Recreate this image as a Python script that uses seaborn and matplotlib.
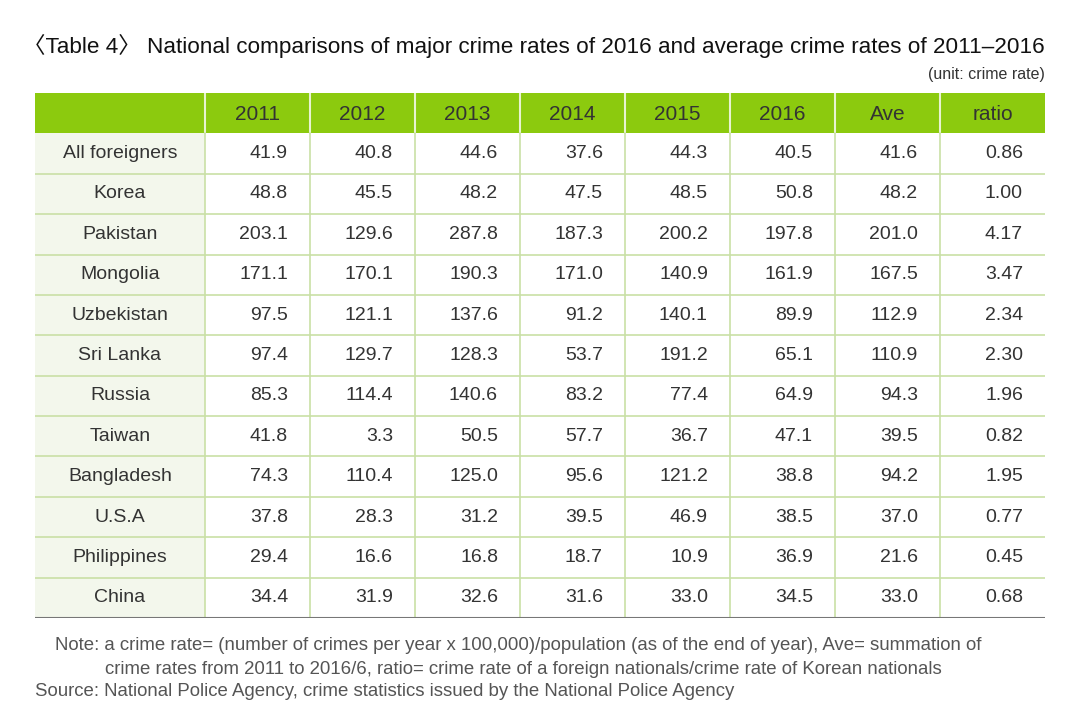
import numpy as np
import pandas as pd
import matplotlib
matplotlib.use("Agg")
import matplotlib.pyplot as plt
import seaborn as sns

countries = ["All foreigners", "Korea", "Pakistan", "Mongolia", "Uzbekistan",
             "Sri Lanka", "Russia", "Taiwan", "Bangladesh", "U.S.A",
             "Philippines", "China"]
columns = ["2011", "2012", "2013", "2014", "2015", "2016", "Ave", "ratio"]
y2011 = [41.9, 48.8, 203.1, 171.1, 97.5, 97.4, 85.3, 41.8, 74.3, 37.8, 29.4, 34.4]
y2012 = [40.8, 45.5, 129.6, 170.1, 121.1, 129.7, 114.4, 3.3, 110.4, 28.3, 16.6, 31.9]
y2013 = [44.6, 48.2, 287.8, 190.3, 137.6, 128.3, 140.6, 50.5, 125.0, 31.2, 16.8, 32.6]
y2014 = [37.6, 47.5, 187.3, 171.0, 91.2, 53.7, 83.2, 57.7, 95.6, 39.5, 18.7, 31.6]
y2015 = [44.3, 48.5, 200.2, 140.9, 140.1, 191.2, 77.4, 36.7, 121.2, 46.9, 10.9, 33.0]
y2016 = [40.5, 50.8, 197.8, 161.9, 89.9, 65.1, 64.9, 47.1, 38.8, 38.5, 36.9, 34.5]
ave = [41.6, 48.2, 201.0, 167.5, 112.9, 110.9, 94.3, 39.5, 94.2, 37.0, 21.6, 33.0]
ratio = [0.86, 1.00, 4.17, 3.47, 2.34, 2.30, 1.96, 0.82, 1.95, 0.77, 0.45, 0.68]

df = pd.DataFrame({"2011": y2011, "2012": y2012, "2013": y2013, "2014": y2014,
                   "2015": y2015, "2016": y2016, "Ave": ave, "ratio": ratio},
                  index=countries)
fmt = {c: "{:.1f}" for c in columns}
fmt["ratio"] = "{:.2f}"

sns.set_theme(style="white")
plt.rcParams["font.family"] = ["Liberation Sans", "Noto Sans CJK KR", "DejaVu Sans"]

fig = plt.figure(figsize=(10.8, 7.19), dpi=100)
W, H = 1080, 719
x0, x1, ytop, ybot = 35, 1045, 93, 618
ax = fig.add_axes([x0 / W, 1 - ybot / H, (x1 - x0) / W, (ybot - ytop) / H])

# column edges in pixel units (first column 170 wide, others 105)
edges = [0, 170] + [170 + 105 * (i + 1) for i in range(len(columns))]
nrows = len(countries) + 1
ax.set_xlim(0, edges[-1])
ax.set_ylim(nrows, 0)
ax.axis("off")

green = "#8cca0e"
line_c = "#c9e0a6"
txt = "#333333"

# header
ax.add_patch(plt.Rectangle((0, 0), edges[-1], 1, color=green, lw=0))
for i, c in enumerate(columns):
    ax.text((edges[i + 1] + edges[i + 2]) / 2, 0.52, c, ha="center", va="center",
            fontsize=15, color=txt)
for e in edges[1:-1]:
    ax.plot([e, e], [0, 1], color="#e8f3d0", lw=1.5)

# first column background
ax.add_patch(plt.Rectangle((0, 1), 170, len(countries), color="#f3f7ec", lw=0))

for r, name in enumerate(countries):
    y = r + 1.5
    ax.text(85, y, name, ha="center", va="center", fontsize=14, color=txt)
    for i, c in enumerate(columns):
        ax.text(edges[i + 2] - 22, y, fmt[c].format(df.loc[name, c]),
                ha="right", va="center", fontsize=14, color=txt)
    ax.plot([0, edges[-1]], [r + 2, r + 2], color=line_c, lw=1.2)
for e in edges[1:-1]:
    ax.plot([e, e], [1, nrows], color=line_c, lw=1.2)
ax.plot([0, edges[-1]], [nrows, nrows], color="#777777", lw=1.5)

fig.text(1045 / W, 1 - 46 / H,
         "\u3008Table 4\u3009 National comparisons of major crime rates of 2016 and average crime rates of 2011\u20132016",
         ha="right", va="center", fontsize=16.2, color="#111111")
fig.text(1045 / W, 1 - 74 / H, "(unit: crime rate)", ha="right", va="center",
         fontsize=11.5, color="#333333")

fig.text(55 / W, 1 - 646 / H,
         "Note: a crime rate= (number of crimes per year x 100,000)/population (as of the end of year), Ave= summation of",
         ha="left", va="center", fontsize=13.4, color="#555555")
fig.text(105 / W, 1 - 669 / H,
         "crime rates from 2011 to 2016/6, ratio= crime rate of a foreign nationals/crime rate of Korean nationals",
         ha="left", va="center", fontsize=13.4, color="#555555")
fig.text(35 / W, 1 - 692 / H,
         "Source: National Police Agency, crime statistics issued by the National Police Agency",
         ha="left", va="center", fontsize=13.4, color="#555555")

fig.savefig("out.png", dpi=100, facecolor="white")
